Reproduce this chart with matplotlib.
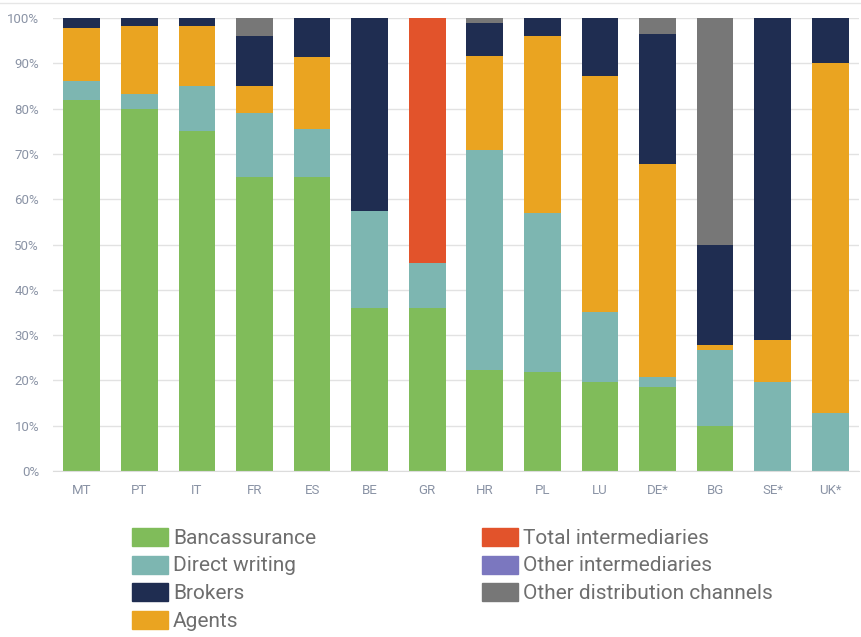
import matplotlib
matplotlib.use("Agg")
import matplotlib.pyplot as plt
import numpy as np
from matplotlib.patches import Rectangle
from matplotlib.lines import Line2D

countries = ['MT', 'PT', 'IT', 'FR', 'ES', 'BE', 'GR', 'HR', 'PL', 'LU', 'DE*', 'BG', 'SE*', 'UK*']

# shares in %, stacked bottom to top
bancassurance = [82.0, 80.0, 75.0, 65.0, 64.8, 36.0, 36.0, 22.4, 21.9, 19.7, 18.5, 9.9, 0.0, 0.0]
direct_writing = [4.0, 3.3, 9.9, 14.0, 10.7, 21.5, 9.9, 48.4, 35.0, 15.5, 2.3, 16.9, 19.7, 12.8]
agents = [11.8, 14.9, 13.3, 6.0, 16.0, 0.0, 0.0, 20.9, 39.1, 52.0, 47.0, 1.1, 9.2, 77.3]
brokers = [2.2, 1.8, 1.8, 11.0, 8.5, 42.5, 0.0, 7.1, 4.0, 12.8, 28.6, 22.1, 71.1, 9.9]
total_intermediaries = [0, 0, 0, 0, 0, 0, 54.1, 0, 0, 0, 0, 0, 0, 0]
other_intermediaries = [0] * 14
other_channels = [0, 0, 0, 4.0, 0, 0, 0, 1.2, 0, 0, 3.6, 50.0, 0, 0]

series = [
    ('Bancassurance', bancassurance, '#80bc5a'),
    ('Direct writing', direct_writing, '#7db6b1'),
    ('Agents', agents, '#eaa421'),
    ('Brokers', brokers, '#1f2d51'),
    ('Total intermediaries', total_intermediaries, '#e2532b'),
    ('Other intermediaries', other_intermediaries, '#7b77bf'),
    ('Other distribution channels', other_channels, '#777777'),
]

tick_col = '#8a93a5'
plt.rcParams['font.family'] = ['Roboto', 'DejaVu Sans']

fig = plt.figure(figsize=(8.62, 6.37), dpi=100)
ax = fig.add_axes([53 / 862, 1 - 471 / 637, 806 / 862, 453 / 637])

x = np.arange(len(countries))
bottom = np.zeros(len(countries))
for name, vals, col in series:
    vals = np.array(vals, dtype=float)
    ax.bar(x, vals, bottom=bottom, width=0.64, color=col, zorder=2)
    bottom += vals

ax.set_xlim(-0.5, len(countries) - 0.5)
ax.set_ylim(0, 100)
ax.set_yticks(np.arange(0, 101, 10))
ax.set_yticklabels([f'{v}%' for v in range(0, 101, 10)])
ax.set_xticks(x)
ax.set_xticklabels(countries)
ax.tick_params(axis='both', length=0, labelsize=9.5, labelcolor=tick_col)
ax.tick_params(axis='x', pad=9)
ax.tick_params(axis='y', pad=10)
ax.grid(axis='y', color='#e2e2e2', lw=1, zorder=0)
for s in ['top', 'right', 'left']:
    ax.spines[s].set_visible(False)
ax.spines['bottom'].set_color('#dcdcdc')

# thin rule across the top
fig.add_artist(Line2D([0, 1], [1 - 3 / 637, 1 - 3 / 637], color='#e6e6e6', lw=1))

# legend, two columns
legend_cols = [
    (132, [series[0], series[1], series[3], series[2]]),
    (482, [series[4], series[5], series[6]]),
]
W, H = 862, 637
for x0, items in legend_cols:
    for i, (name, vals, col) in enumerate(items):
        yc = 537 + i * 27.7
        fig.add_artist(Rectangle((x0 / W, 1 - (yc + 9) / H), 36 / W, 18 / H,
                                 color=col, transform=fig.transFigure))
        fig.text((x0 + 41) / W, 1 - (yc + 1) / H, name, fontsize=15,
                 color='#6e6e6e', va='center', ha='left')

fig.savefig('out.png', dpi=100)
